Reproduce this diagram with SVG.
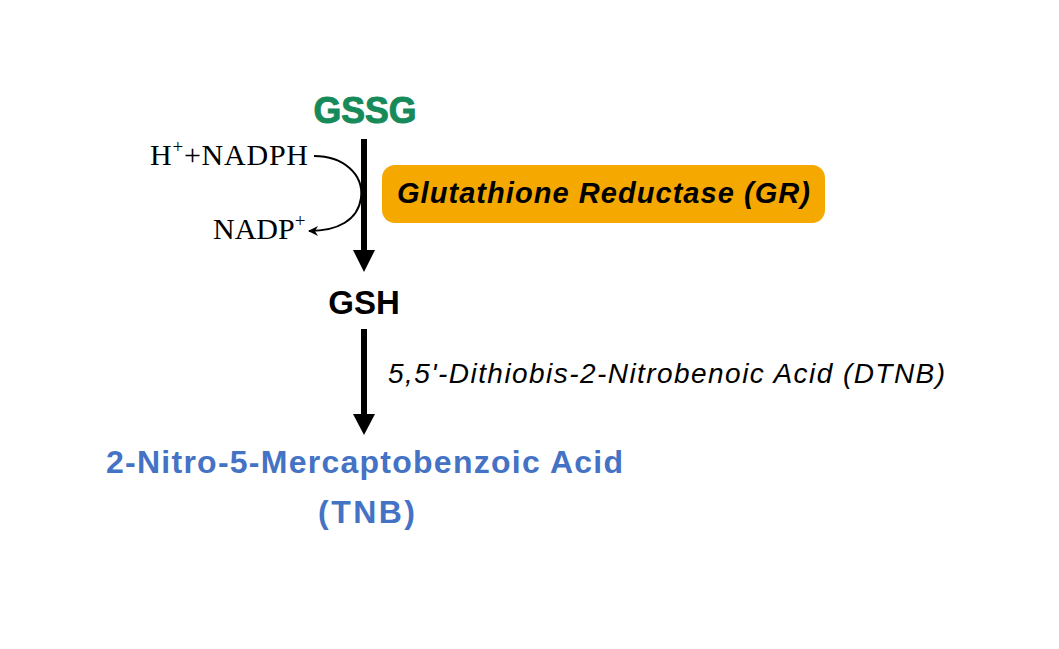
<svg xmlns="http://www.w3.org/2000/svg" width="1059" height="649" viewBox="0 0 1059 649">
  <style>
    .sans { font-family: "Liberation Sans", Arial, sans-serif; }
    .serif { font-family: "Liberation Serif", "Times New Roman", serif; font-size: 30px; fill: #000; }
    .bold { font-weight: bold; }
    .main { stroke: #000; stroke-width: 6; fill: none; }
    .blue { fill: #4472C4; font-size: 32px; font-weight: bold; }
  </style>
  <defs>
    <marker id="small" viewBox="0 0 10 10" refX="9" refY="5" markerWidth="10" markerHeight="10" markerUnits="userSpaceOnUse" orient="auto">
      <path d="M0,0 L10,5 L0,10 L3,5 Z" fill="#000"/>
    </marker>
  </defs>
  <rect width="1059" height="649" fill="#fff"/>

  <g id="gssg">
    <text class="sans bold" x="365" y="123" text-anchor="middle" font-size="36" fill="#178A5A" stroke="#178A5A" stroke-width="1" textLength="103" lengthAdjust="spacingAndGlyphs">GSSG</text>
  </g>

  <g id="nadph">
    <text class="serif" x="150" y="165" textLength="158" lengthAdjust="spacing">H<tspan font-size="19" dy="-12">+</tspan><tspan dy="12">+NADPH</tspan></text>
  </g>
  <g id="nadp">
    <text class="serif" x="213" y="239">NADP<tspan font-size="19" dy="-12">+</tspan></text>
  </g>

  <g id="gr">
    <rect x="382" y="165" width="443" height="58" rx="13" ry="13" fill="#F5A800"/>
    <text class="sans bold" x="397" y="203" font-size="29" font-style="italic" textLength="413" lengthAdjust="spacing">Glutathione Reductase (GR)</text>
  </g>

  <g id="gsh">
    <text class="sans bold" x="364" y="314" text-anchor="middle" font-size="33">GSH</text>
  </g>

  <g id="dtnb">
    <text class="sans" x="388" y="383" font-size="28" font-style="italic" textLength="557" lengthAdjust="spacing">5,5'-Dithiobis-2-Nitrobenoic Acid (DTNB)</text>
  </g>

  <g id="tnb">
    <text class="sans blue" x="106" y="473" textLength="517" lengthAdjust="spacing">2-Nitro-5-Mercaptobenzoic Acid</text>
    <text class="sans blue" x="318" y="523" font-size="34" textLength="97" lengthAdjust="spacing">(TNB)</text>
  </g>

  <g id="connectors">
    <line class="main" x1="364" y1="139" x2="364" y2="252"/>
    <path d="M353,250 L375,250 L364,272 Z" fill="#000"/>
    <line class="main" x1="364" y1="329" x2="364" y2="416"/>
    <path d="M353,414 L375,414 L364,435 Z" fill="#000"/>
    <path d="M314,156 C343,156 364,174 361,198 C358,220 338,231 309,231" fill="none" stroke="#000" stroke-width="2" marker-end="url(#small)"/>
  </g>
</svg>
